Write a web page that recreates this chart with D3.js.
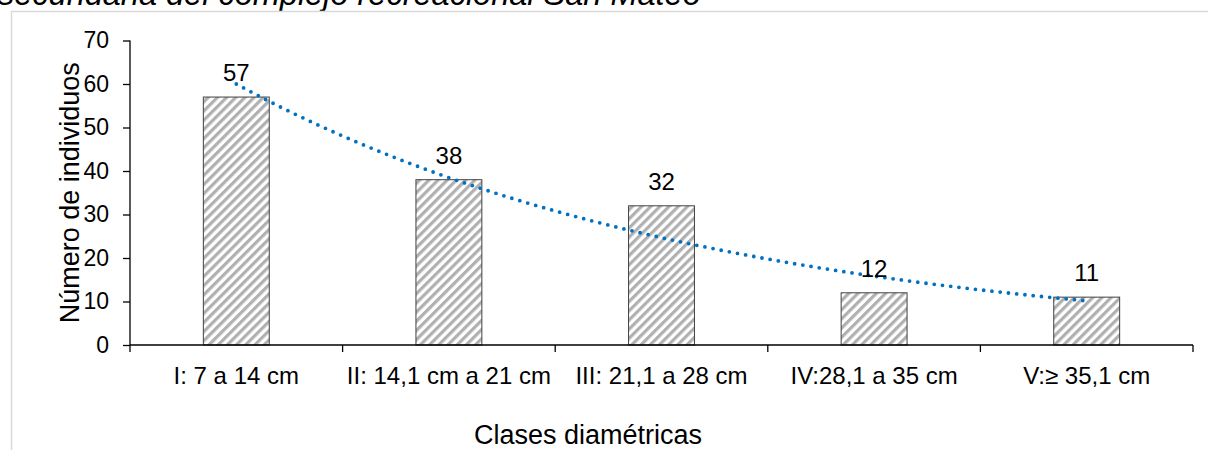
<!DOCTYPE html>
<html>
<head>
<meta charset="utf-8">
<script src="https://cdn.jsdelivr.net/npm/d3@7"></script>
<style>
  html, body { margin: 0; padding: 0; background: #fff; }
  svg { display: block; font-family: "Liberation Sans", Arial, sans-serif; }
</style>
</head>
<body>
<svg id="chart" width="1208" height="450"></svg>
<script>
// Clases diamétricas y número de individuos por clase
const categories = ["I: 7 a 14 cm", "II: 14,1 cm a 21 cm", "III: 21,1 a 28 cm", "IV:28,1 a 35 cm", "V:≥ 35,1 cm"];
const counts = [57, 38, 32, 12, 11];
const yTicks = [0, 10, 20, 30, 40, 50, 60, 70];

const titleText = "secundaria del complejo recreacional San Mateo";
const xTitle = "Clases diamétricas";
const yTitle = "Número de individuos";

const svg = d3.select("#chart");

// Plot area
const plot = { left: 130, right: 1193, top: 40.5, bottom: 345 };

const x = d3.scaleBand()
  .domain(categories)
  .range([plot.left, plot.right])
  .paddingInner(0)
  .paddingOuter(0);

const y = d3.scaleLinear()
  .domain([0, 70])
  .range([plot.bottom, plot.top]);

// Hatch pattern for the bars
const defs = svg.append("defs");
const pat = defs.append("pattern")
  .attr("id", "hatch")
  .attr("patternUnits", "userSpaceOnUse")
  .attr("width", 6.5)
  .attr("height", 6.5)
  .attr("patternTransform", "rotate(45)");
pat.append("rect").attr("width", 6.5).attr("height", 6.5).attr("fill", "#ffffff");
pat.append("rect").attr("width", 3.2).attr("height", 6.5).attr("fill", "#b0b0b0");

// Caption line running above the chart frame
svg.append("text")
  .attr("x", -2)
  .attr("y", 5)
  .attr("font-size", 32.5)
  .attr("font-style", "italic")
  .attr("fill", "#000")
  .text(titleText);

// Chart frame
svg.append("rect")
  .attr("x", 11.5)
  .attr("y", 11.5)
  .attr("width", 1220)
  .attr("height", 460)
  .attr("fill", "none")
  .attr("stroke", "#d9d9d9")
  .attr("stroke-width", 1.5);

// Bars
const barW = x.bandwidth() * 0.31;
svg.append("g")
  .selectAll("rect")
  .data(counts)
  .join("rect")
  .attr("x", (d, i) => x(categories[i]) + (x.bandwidth() - barW) / 2)
  .attr("y", d => y(d))
  .attr("width", barW)
  .attr("height", d => y(0) - y(d))
  .attr("fill", "url(#hatch)")
  .attr("stroke", "#404040")
  .attr("stroke-width", 1);

// Exponential trendline fitted to the counts (least squares on ln y)
const xs = counts.map((d, i) => i + 1);
const lns = counts.map(d => Math.log(d));
const mx = d3.mean(xs), ml = d3.mean(lns);
const b = d3.sum(xs.map((v, i) => (v - mx) * (lns[i] - ml))) / d3.sum(xs.map(v => (v - mx) ** 2));
const a = Math.exp(ml - b * mx);
const trendX = d3.scaleLinear().domain([1, categories.length])
  .range([x(categories[0]) + x.bandwidth() / 2, x(categories[categories.length - 1]) + x.bandwidth() / 2]);
const trendPts = d3.range(1, categories.length + 0.001, 0.02).map(t => [trendX(t), y(a * Math.exp(b * t))]);
svg.append("path")
  .attr("d", d3.line()(trendPts))
  .attr("fill", "none")
  .attr("stroke", "#0070c0")
  .attr("stroke-width", 3.8)
  .attr("stroke-linecap", "round")
  .attr("stroke-dasharray", "0 8.3");

// Y axis
const yAxis = svg.append("g")
  .attr("transform", `translate(${plot.left},0)`)
  .call(d3.axisLeft(y).tickValues(yTicks).tickSize(7).tickPadding(14));
yAxis.select(".domain").attr("stroke", "#000").attr("stroke-width", 1.3).attr("d", `M0,${plot.top}V${plot.bottom}`);
yAxis.selectAll(".tick line").attr("stroke", "#000").attr("stroke-width", 1.3);
yAxis.selectAll(".tick text").attr("font-size", 23).attr("fill", "#000")
  .attr("font-family", "Liberation Sans, Arial, sans-serif");

// X axis with ticks at the category boundaries
const xAxisG = svg.append("g").attr("transform", `translate(0,${plot.bottom})`);
xAxisG.append("line")
  .attr("x1", plot.left).attr("x2", plot.right)
  .attr("stroke", "#000").attr("stroke-width", 1.3);
const bounds = categories.map(c => x(c)).concat([plot.right]);
xAxisG.selectAll(".xt")
  .data(bounds)
  .join("line")
  .attr("class", "xt")
  .attr("x1", d => d).attr("x2", d => d)
  .attr("y1", 0).attr("y2", 7)
  .attr("stroke", "#000").attr("stroke-width", 1.3);
xAxisG.selectAll(".xl")
  .data(categories)
  .join("text")
  .attr("class", "xl")
  .attr("x", d => x(d) + x.bandwidth() / 2)
  .attr("y", 39)
  .attr("text-anchor", "middle")
  .attr("font-size", 24)
  .attr("fill", "#000")
  .text(d => d);

// Value labels above bars
svg.append("g")
  .selectAll("text")
  .data(counts)
  .join("text")
  .attr("x", (d, i) => x(categories[i]) + x.bandwidth() / 2)
  .attr("y", d => y(d) - 16)
  .attr("text-anchor", "middle")
  .attr("font-size", 24)
  .attr("fill", "#000")
  .text(d => d);

// Axis titles
svg.append("text")
  .attr("x", 588)
  .attr("y", 444)
  .attr("text-anchor", "middle")
  .attr("font-size", 27)
  .attr("fill", "#000")
  .text(xTitle);

svg.append("text")
  .attr("transform", `translate(79,${(plot.top + plot.bottom) / 2}) rotate(-90)`)
  .attr("text-anchor", "middle")
  .attr("font-size", 27)
  .attr("fill", "#000")
  .text(yTitle);
</script>
</body>
</html>
